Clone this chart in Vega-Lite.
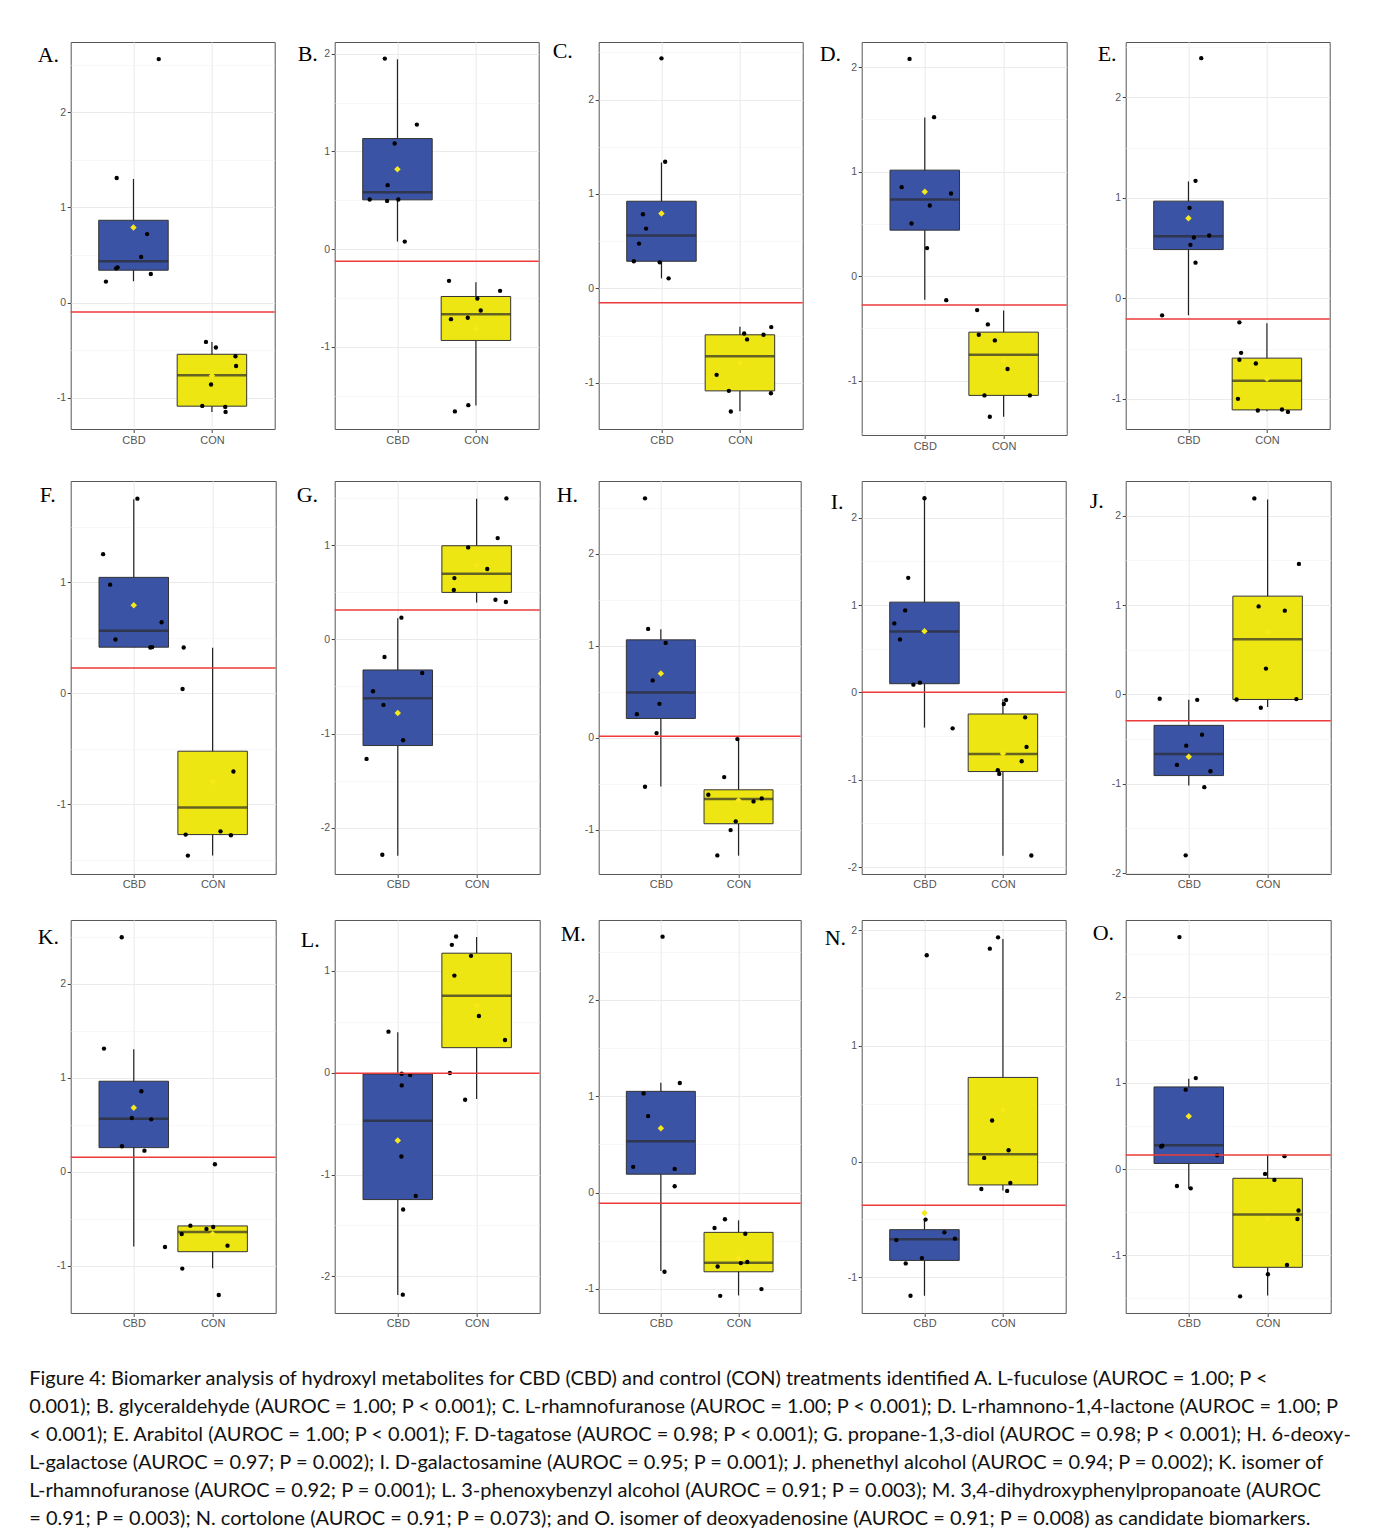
{
"$schema": "https://vega.github.io/schema/vega-lite/v6.json",
"background": "white",
"padding": {"left": 28.7, "top": 39, "right": 5, "bottom": 5},
"columns": 5,
"spacing": {"row": 46, "column": 59},
"bounds": "flush",
"title": {"text": [
"Figure 4: Biomarker analysis of hydroxyl metabolites for CBD (CBD) and control (CON) treatments identified A. L-fuculose (AUROC = 1.00; P <",
"0.001); B. glyceraldehyde (AUROC = 1.00; P < 0.001); C. L-rhamnofuranose (AUROC = 1.00; P < 0.001); D. L-rhamnono-1,4-lactone (AUROC = 1.00; P",
"< 0.001); E. Arabitol (AUROC = 1.00; P < 0.001); F. D-tagatose (AUROC = 0.98; P < 0.001); G. propane-1,3-diol (AUROC = 0.98; P < 0.001); H. 6-deoxy-",
"L-galactose (AUROC = 0.97; P = 0.002); I. D-galactosamine (AUROC = 0.95; P = 0.001); J. phenethyl alcohol (AUROC = 0.94; P = 0.002); K. isomer of",
"L-rhamnofuranose (AUROC = 0.92; P = 0.001); L. 3-phenoxybenzyl alcohol (AUROC = 0.91; P = 0.003); M. 3,4-dihydroxyphenylpropanoate (AUROC",
"= 0.91; P = 0.003); N. cortolone (AUROC = 0.91; P = 0.073); and O. isomer of deoxyadenosine (AUROC = 0.91; P = 0.008) as candidate biomarkers."],
"orient": "bottom", "anchor": "start", "frame": "bounds", "font": "Lato", "fontSize": 20, "fontWeight": "normal", "lineHeight": 28, "baseline": "top", "offset": 40, "dx": -8, "color": "#111111"},
"datasets": {
"box": [
{"p":"A","grp":"CBD","g":1,"lo":0.224,"q1":0.34,"md":0.434,"q3":0.865,"hi":1.30,"mean":0.79},
{"p":"A","grp":"CON","g":2,"lo":-1.15,"q1":-1.09,"md":-0.764,"q3":-0.544,"hi":-0.414,"mean":-0.77},
{"p":"B","grp":"CBD","g":1,"lo":0.078,"q1":0.505,"md":0.583,"q3":1.132,"hi":1.943,"mean":0.818},
{"p":"B","grp":"CON","g":2,"lo":-1.599,"q1":-0.934,"md":-0.665,"q3":-0.484,"hi":-0.338,"mean":-0.82},
{"p":"C","grp":"CBD","g":1,"lo":0.106,"q1":0.287,"md":0.559,"q3":0.923,"hi":1.334,"mean":0.792},
{"p":"C","grp":"CON","g":2,"lo":-1.302,"q1":-1.086,"md":-0.718,"q3":-0.492,"hi":-0.407,"mean":-0.79},
{"p":"D","grp":"CBD","g":1,"lo":-0.226,"q1":0.44,"md":0.733,"q3":1.014,"hi":1.517,"mean":0.807},
{"p":"D","grp":"CON","g":2,"lo":-1.345,"q1":-1.141,"md":-0.752,"q3":-0.536,"hi":-0.328,"mean":-0.81},
{"p":"E","grp":"CBD","g":1,"lo":-0.169,"q1":0.485,"md":0.618,"q3":0.967,"hi":1.163,"mean":0.797},
{"p":"E","grp":"CON","g":2,"lo":-1.123,"q1":-1.11,"md":-0.821,"q3":-0.595,"hi":-0.249,"mean":-0.80},
{"p":"F","grp":"CBD","g":1,"lo":0.413,"q1":0.413,"md":0.56,"q3":1.042,"hi":1.746,"mean":0.79},
{"p":"F","grp":"CON","g":2,"lo":-1.464,"q1":-1.275,"md":-1.03,"q3":-0.524,"hi":0.407,"mean":-0.80},
{"p":"G","grp":"CBD","g":1,"lo":-2.297,"q1":-1.127,"md":-0.625,"q3":-0.325,"hi":0.223,"mean":-0.781},
{"p":"G","grp":"CON","g":2,"lo":0.392,"q1":0.498,"md":0.696,"q3":0.993,"hi":1.491,"mean":0.785},
{"p":"H","grp":"CBD","g":1,"lo":-0.528,"q1":0.21,"md":0.492,"q3":1.064,"hi":1.18,"mean":0.699},
{"p":"H","grp":"CON","g":2,"lo":-1.281,"q1":-0.934,"md":-0.666,"q3":-0.565,"hi":-0.014,"mean":-0.68},
{"p":"I","grp":"CBD","g":1,"lo":-0.404,"q1":0.099,"md":0.698,"q3":1.033,"hi":2.219,"mean":0.701},
{"p":"I","grp":"CON","g":2,"lo":-1.872,"q1":-0.907,"md":-0.705,"q3":-0.248,"hi":-0.08,"mean":-0.70},
{"p":"J","grp":"CBD","g":1,"lo":-1.02,"q1":-0.908,"md":-0.666,"q3":-0.346,"hi":-0.06,"mean":-0.696},
{"p":"J","grp":"CON","g":2,"lo":-0.141,"q1":-0.056,"md":0.618,"q3":1.101,"hi":2.184,"mean":0.70},
{"p":"K","grp":"CBD","g":1,"lo":-0.794,"q1":0.259,"md":0.567,"q3":0.965,"hi":1.305,"mean":0.684},
{"p":"K","grp":"CON","g":2,"lo":-1.025,"q1":-0.848,"md":-0.638,"q3":-0.574,"hi":-0.574,"mean":-0.66},
{"p":"L","grp":"CBD","g":1,"lo":-2.184,"q1":-1.246,"md":-0.472,"q3":-0.013,"hi":0.397,"mean":-0.666},
{"p":"L","grp":"CON","g":2,"lo":-0.259,"q1":0.246,"md":0.757,"q3":1.174,"hi":1.334,"mean":0.66},
{"p":"M","grp":"CBD","g":1,"lo":-0.815,"q1":0.191,"md":0.534,"q3":1.051,"hi":1.141,"mean":0.669},
{"p":"M","grp":"CON","g":2,"lo":-1.068,"q1":-0.822,"md":-0.728,"q3":-0.413,"hi":-0.288,"mean":-0.68},
{"p":"N","grp":"CBD","g":1,"lo":-1.161,"q1":-0.855,"md":-0.673,"q3":-0.589,"hi":-0.502,"mean":-0.445},
{"p":"N","grp":"CON","g":2,"lo":-0.251,"q1":-0.202,"md":0.064,"q3":0.728,"hi":1.926,"mean":0.448},
{"p":"O","grp":"CBD","g":1,"lo":-0.224,"q1":0.065,"md":0.276,"q3":0.953,"hi":1.047,"mean":0.612},
{"p":"O","grp":"CON","g":2,"lo":-1.467,"q1":-1.14,"md":-0.528,"q3":-0.107,"hi":0.159,"mean":-0.58}
],
"thr": [
{"p":"A","y":-0.099},{"p":"B","y":-0.123},{"p":"C","y":-0.152},{"p":"D","y":-0.277},{"p":"E","y":-0.206},
{"p":"F","y":0.225},{"p":"G","y":0.311},{"p":"H","y":0.018},{"p":"I","y":0.0},{"p":"J","y":-0.294},
{"p":"K","y":0.156},{"p":"L","y":-0.005},{"p":"M","y":-0.111},{"p":"N","y":-0.378},{"p":"O","y":0.164}
],
"pts": [
{"p":"A","x":0.786,"y":1.31},{"p":"A","x":1.322,"y":2.56},{"p":"A","x":1.174,"y":0.72},{"p":"A","x":1.098,"y":0.48},{"p":"A","x":0.797,"y":0.37},{"p":"A","x":0.779,"y":0.36},{"p":"A","x":0.649,"y":0.22},{"p":"A","x":1.221,"y":0.30},
{"p":"A","x":1.924,"y":-0.414},{"p":"A","x":2.051,"y":-0.473},{"p":"A","x":2.30,"y":-0.565},{"p":"A","x":2.308,"y":-0.667},{"p":"A","x":1.989,"y":-0.862},{"p":"A","x":1.877,"y":-1.087},{"p":"A","x":2.170,"y":-1.098},{"p":"A","x":2.174,"y":-1.150},
{"p":"B","x":0.839,"y":1.95},{"p":"B","x":1.247,"y":1.275},{"p":"B","x":0.964,"y":1.081},{"p":"B","x":0.875,"y":0.655},{"p":"B","x":0.646,"y":0.508},{"p":"B","x":0.868,"y":0.494},{"p":"B","x":1.011,"y":0.508},{"p":"B","x":1.093,"y":0.078},
{"p":"B","x":1.657,"y":-0.324},{"p":"B","x":2.308,"y":-0.426},{"p":"B","x":2.018,"y":-0.505},{"p":"B","x":2.061,"y":-0.627},{"p":"B","x":1.682,"y":-0.716},{"p":"B","x":1.896,"y":-0.702},{"p":"B","x":1.903,"y":-1.596},{"p":"B","x":1.732,"y":-1.66},
{"p":"C","x":1.0,"y":2.437},{"p":"C","x":1.047,"y":1.341},{"p":"C","x":0.764,"y":0.785},{"p":"C","x":0.804,"y":0.633},{"p":"C","x":0.714,"y":0.474},{"p":"C","x":0.648,"y":0.287},{"p":"C","x":0.978,"y":0.276},{"p":"C","x":1.091,"y":0.106},
{"p":"C","x":2.399,"y":-0.41},{"p":"C","x":2.054,"y":-0.478},{"p":"C","x":2.301,"y":-0.492},{"p":"C","x":2.091,"y":-0.541},{"p":"C","x":1.703,"y":-0.916},{"p":"C","x":1.859,"y":-1.086},{"p":"C","x":2.395,"y":-1.111},{"p":"C","x":1.884,"y":-1.305},
{"p":"D","x":0.807,"y":2.078},{"p":"D","x":1.118,"y":1.521},{"p":"D","x":0.707,"y":0.851},{"p":"D","x":1.333,"y":0.791},{"p":"D","x":1.064,"y":0.676},{"p":"D","x":0.832,"y":0.504},{"p":"D","x":1.029,"y":0.268},{"p":"D","x":1.272,"y":-0.23},
{"p":"D","x":1.664,"y":-0.325},{"p":"D","x":1.80,"y":-0.462},{"p":"D","x":1.685,"y":-0.561},{"p":"D","x":1.889,"y":-0.615},{"p":"D","x":2.05,"y":-0.889},{"p":"D","x":1.757,"y":-1.141},{"p":"D","x":2.333,"y":-1.141},{"p":"D","x":1.825,"y":-1.345},
{"p":"E","x":1.163,"y":2.389},{"p":"E","x":1.09,"y":1.169},{"p":"E","x":1.014,"y":0.90},{"p":"E","x":1.069,"y":0.605},{"p":"E","x":1.264,"y":0.625},{"p":"E","x":1.025,"y":0.532},{"p":"E","x":1.09,"y":0.355},{"p":"E","x":0.664,"y":-0.169},
{"p":"E","x":1.649,"y":-0.239},{"p":"E","x":1.671,"y":-0.542},{"p":"E","x":1.649,"y":-0.611},{"p":"E","x":1.859,"y":-0.648},{"p":"E","x":1.631,"y":-1.0},{"p":"E","x":1.884,"y":-1.116},{"p":"E","x":2.192,"y":-1.106},{"p":"E","x":2.268,"y":-1.13},
{"p":"F","x":1.046,"y":1.751},{"p":"F","x":0.611,"y":1.251},{"p":"F","x":0.70,"y":0.976},{"p":"F","x":1.353,"y":0.638},{"p":"F","x":0.768,"y":0.482},{"p":"F","x":1.21,"y":0.41},{"p":"F","x":1.232,"y":0.413},
{"p":"F","x":1.633,"y":0.41},{"p":"F","x":1.619,"y":0.036},{"p":"F","x":2.264,"y":-0.707},{"p":"F","x":1.658,"y":-1.275},{"p":"F","x":2.10,"y":-1.246},{"p":"F","x":2.232,"y":-1.281},{"p":"F","x":1.686,"y":-1.464},
{"p":"G","x":1.046,"y":0.23},{"p":"G","x":0.832,"y":-0.187},{"p":"G","x":1.31,"y":-0.357},{"p":"G","x":0.686,"y":-0.551},{"p":"G","x":0.818,"y":-0.696},{"p":"G","x":1.068,"y":-1.071},{"p":"G","x":0.604,"y":-1.269},{"p":"G","x":0.804,"y":-2.286},
{"p":"G","x":2.378,"y":1.495},{"p":"G","x":2.267,"y":1.074},{"p":"G","x":1.893,"y":0.975},{"p":"G","x":2.135,"y":0.746},{"p":"G","x":1.718,"y":0.65},{"p":"G","x":1.711,"y":0.523},{"p":"G","x":2.239,"y":0.42},{"p":"G","x":2.371,"y":0.396},
{"p":"H","x":0.796,"y":2.602},{"p":"H","x":0.836,"y":1.183},{"p":"H","x":1.062,"y":1.031},{"p":"H","x":0.895,"y":0.623},{"p":"H","x":0.982,"y":0.369},{"p":"H","x":0.691,"y":0.257},{"p":"H","x":0.945,"y":0.051},{"p":"H","x":0.796,"y":-0.532},
{"p":"H","x":1.985,"y":-0.014},{"p":"H","x":1.815,"y":-0.427},{"p":"H","x":1.611,"y":-0.619},{"p":"H","x":2.193,"y":-0.691},{"p":"H","x":2.298,"y":-0.659},{"p":"H","x":1.964,"y":-0.908},{"p":"H","x":1.898,"y":-1.003},{"p":"H","x":1.727,"y":-1.278},
{"p":"I","x":1.0,"y":2.223},{"p":"I","x":0.793,"y":1.311},{"p":"I","x":0.754,"y":0.938},{"p":"I","x":0.616,"y":0.789},{"p":"I","x":0.688,"y":0.606},{"p":"I","x":0.942,"y":0.111},{"p":"I","x":0.859,"y":0.088},{"p":"I","x":1.359,"y":-0.412},
{"p":"I","x":2.04,"y":-0.088},{"p":"I","x":2.011,"y":-0.133},{"p":"I","x":2.283,"y":-0.286},{"p":"I","x":2.301,"y":-0.625},{"p":"I","x":2.239,"y":-0.789},{"p":"I","x":1.935,"y":-0.892},{"p":"I","x":1.953,"y":-0.934},{"p":"I","x":2.362,"y":-1.868},
{"p":"J","x":0.631,"y":-0.048},{"p":"J","x":1.107,"y":-0.06},{"p":"J","x":1.168,"y":-0.45},{"p":"J","x":0.968,"y":-0.573},{"p":"J","x":0.85,"y":-0.789},{"p":"J","x":1.275,"y":-0.86},{"p":"J","x":1.197,"y":-1.038},{"p":"J","x":0.961,"y":-1.801},
{"p":"J","x":1.832,"y":2.195},{"p":"J","x":2.397,"y":1.462},{"p":"J","x":1.886,"y":0.986},{"p":"J","x":2.218,"y":0.938},{"p":"J","x":1.979,"y":0.29},{"p":"J","x":1.606,"y":-0.056},{"p":"J","x":2.365,"y":-0.052},{"p":"J","x":1.914,"y":-0.149},
{"p":"K","x":0.847,"y":2.496},{"p":"K","x":0.622,"y":1.312},{"p":"K","x":1.096,"y":0.858},{"p":"K","x":0.975,"y":0.574},{"p":"K","x":1.221,"y":0.56},{"p":"K","x":0.85,"y":0.273},{"p":"K","x":1.135,"y":0.227},{"p":"K","x":1.396,"y":-0.798},
{"p":"K","x":2.029,"y":0.082},{"p":"K","x":1.718,"y":-0.571},{"p":"K","x":2.007,"y":-0.585},{"p":"K","x":1.922,"y":-0.606},{"p":"K","x":1.608,"y":-0.66},{"p":"K","x":2.189,"y":-0.784},{"p":"K","x":1.615,"y":-1.028},{"p":"K","x":2.078,"y":-1.309},
{"p":"L","x":0.882,"y":0.403},{"p":"L","x":1.05,"y":-0.01},{"p":"L","x":1.157,"y":-0.023},{"p":"L","x":1.05,"y":-0.125},{"p":"L","x":1.046,"y":-0.823},{"p":"L","x":1.228,"y":-1.21},{"p":"L","x":1.068,"y":-1.344},{"p":"L","x":1.064,"y":-2.18},
{"p":"L","x":1.74,"y":1.338},{"p":"L","x":1.686,"y":1.256},{"p":"L","x":1.929,"y":1.148},{"p":"L","x":1.718,"y":0.954},{"p":"L","x":2.029,"y":0.557},{"p":"L","x":2.36,"y":0.321},{"p":"L","x":1.661,"y":-0.003},{"p":"L","x":1.854,"y":-0.266},
{"p":"M","x":1.022,"y":2.657},{"p":"M","x":1.244,"y":1.138},{"p":"M","x":0.778,"y":1.03},{"p":"M","x":0.836,"y":0.794},{"p":"M","x":0.644,"y":0.267},{"p":"M","x":1.178,"y":0.246},{"p":"M","x":1.178,"y":0.066},{"p":"M","x":1.047,"y":-0.822},
{"p":"M","x":1.825,"y":-0.277},{"p":"M","x":1.691,"y":-0.368},{"p":"M","x":2.087,"y":-0.427},{"p":"M","x":2.113,"y":-0.721},{"p":"M","x":2.029,"y":-0.732},{"p":"M","x":1.731,"y":-0.767},{"p":"M","x":2.295,"y":-1.002},{"p":"M","x":1.764,"y":-1.072},
{"p":"N","x":1.029,"y":1.785},{"p":"N","x":1.014,"y":-0.502},{"p":"N","x":1.254,"y":-0.612},{"p":"N","x":1.388,"y":-0.667},{"p":"N","x":0.641,"y":-0.679},{"p":"N","x":0.967,"y":-0.835},{"p":"N","x":0.761,"y":-0.881},{"p":"N","x":0.822,"y":-1.161},
{"p":"N","x":1.938,"y":1.94},{"p":"N","x":1.833,"y":1.842},{"p":"N","x":1.862,"y":0.355},{"p":"N","x":2.072,"y":0.098},{"p":"N","x":1.761,"y":0.032},{"p":"N","x":2.094,"y":-0.185},{"p":"N","x":1.725,"y":-0.237},{"p":"N","x":2.054,"y":-0.254},
{"p":"O","x":0.882,"y":2.692},{"p":"O","x":1.089,"y":1.056},{"p":"O","x":0.961,"y":0.921},{"p":"O","x":0.651,"y":0.262},{"p":"O","x":0.665,"y":0.271},{"p":"O","x":1.36,"y":0.159},{"p":"O","x":0.85,"y":-0.196},{"p":"O","x":1.025,"y":-0.224},
{"p":"O","x":2.214,"y":0.15},{"p":"O","x":1.968,"y":-0.056},{"p":"O","x":2.086,"y":-0.126},{"p":"O","x":2.392,"y":-0.481},{"p":"O","x":2.378,"y":-0.579},{"p":"O","x":2.246,"y":-1.112},{"p":"O","x":2.004,"y":-1.22},{"p":"O","x":1.651,"y":-1.477}
]
},
"concat": [
{"width":204,"height":387,"title":{"text":"A.","dx":-33,"dy":28.5},"layer":[
{"data":{"name":"box"},"transform":[{"filter":"datum.p=='A'"}],"mark":{"type":"rule","color":"#222222","strokeWidth":1.2},"encoding":{"x":{"field":"g","type":"quantitative","scale":{"domain":[0.4,2.6]},"axis":{"values":[1,2],"labelExpr":"datum.value == 1 ? 'CBD' : 'CON'","title":null,"labelFontSize":11,"grid":true,"gridColor":"#EBEBEB","gridWidth":1.1}},"y":{"field":"lo","type":"quantitative","scale":{"domain":[-1.33,2.74],"nice":false,"zero":false},"axis":{"values":[-1,-0.5,0,0.5,1,1.5,2,2.5],"title":null,"grid":true,"labelExpr":"datum.value % 1 === 0 ? '' + datum.value : ''","gridColor":{"condition":{"test":"datum.value % 1 !== 0","value":"#F4F4F4"},"value":"#EBEBEB"},"gridWidth":{"condition":{"test":"datum.value % 1 !== 0","value":0.6},"value":1.1},"tickOpacity":{"condition":{"test":"datum.value % 1 !== 0","value":0},"value":1}}},"y2":{"field":"hi"}}},
{"data":{"name":"box"},"transform":[{"filter":"datum.p=='A'"}],"mark":{"type":"bar","width":69.5,"stroke":"#333333","strokeWidth":1},"encoding":{"x":{"field":"g","type":"quantitative","title":null},"y":{"field":"q1","type":"quantitative","title":null},"y2":{"field":"q3"},"fill":{"field":"grp","type":"nominal","scale":{"domain":["CBD","CON"],"range":["#3A53A4","#EDE613"]},"legend":null}}},
{"data":{"name":"box"},"transform":[{"filter":"datum.p=='A'"}],"mark":{"type":"tick","orient":"horizontal","size":69.5,"thickness":2.5,"color":"#2b2b2b"},"encoding":{"x":{"field":"g","type":"quantitative","title":null},"y":{"field":"md","type":"quantitative","title":null}}},
{"data":{"name":"pts"},"transform":[{"filter":"datum.p=='A'"}],"mark":{"type":"circle","size":19,"color":"#000000","opacity":1},"encoding":{"x":{"field":"x","type":"quantitative","title":null},"y":{"field":"y","type":"quantitative","title":null}}},
{"data":{"name":"box"},"transform":[{"filter":"datum.p=='A'"}],"mark":{"type":"point","shape":"diamond","filled":true,"size":42,"color":"#F7E81A","opacity":1},"encoding":{"x":{"field":"g","type":"quantitative","title":null},"y":{"field":"mean","type":"quantitative","title":null}}},
{"data":{"name":"thr"},"transform":[{"filter":"datum.p=='A'"}],"mark":{"type":"rule","color":"#EE3A3A","strokeWidth":1.5},"encoding":{"y":{"field":"y","type":"quantitative","title":null}}}
]},
{"width":204,"height":387,"title":{"text":"B.","dx":-37,"dy":27.9},"layer":[
{"data":{"name":"box"},"transform":[{"filter":"datum.p=='B'"}],"mark":{"type":"rule","color":"#222222","strokeWidth":1.2},"encoding":{"x":{"field":"g","type":"quantitative","scale":{"domain":[0.4,2.6]},"axis":{"values":[1,2],"labelExpr":"datum.value == 1 ? 'CBD' : 'CON'","title":null,"labelFontSize":11,"grid":true,"gridColor":"#EBEBEB","gridWidth":1.1}},"y":{"field":"lo","type":"quantitative","scale":{"domain":[-1.84,2.12],"nice":false,"zero":false},"axis":{"values":[-1.5,-1,-0.5,0,0.5,1,1.5,2],"title":null,"grid":true,"labelExpr":"datum.value % 1 === 0 ? '' + datum.value : ''","gridColor":{"condition":{"test":"datum.value % 1 !== 0","value":"#F4F4F4"},"value":"#EBEBEB"},"gridWidth":{"condition":{"test":"datum.value % 1 !== 0","value":0.6},"value":1.1},"tickOpacity":{"condition":{"test":"datum.value % 1 !== 0","value":0},"value":1}}},"y2":{"field":"hi"}}},
{"data":{"name":"box"},"transform":[{"filter":"datum.p=='B'"}],"mark":{"type":"bar","width":69.5,"stroke":"#333333","strokeWidth":1},"encoding":{"x":{"field":"g","type":"quantitative","title":null},"y":{"field":"q1","type":"quantitative","title":null},"y2":{"field":"q3"},"fill":{"field":"grp","type":"nominal","scale":{"domain":["CBD","CON"],"range":["#3A53A4","#EDE613"]},"legend":null}}},
{"data":{"name":"box"},"transform":[{"filter":"datum.p=='B'"}],"mark":{"type":"tick","orient":"horizontal","size":69.5,"thickness":2.5,"color":"#2b2b2b"},"encoding":{"x":{"field":"g","type":"quantitative","title":null},"y":{"field":"md","type":"quantitative","title":null}}},
{"data":{"name":"pts"},"transform":[{"filter":"datum.p=='B'"}],"mark":{"type":"circle","size":19,"color":"#000000","opacity":1},"encoding":{"x":{"field":"x","type":"quantitative","title":null},"y":{"field":"y","type":"quantitative","title":null}}},
{"data":{"name":"box"},"transform":[{"filter":"datum.p=='B'"}],"mark":{"type":"point","shape":"diamond","filled":true,"size":42,"color":"#F7E81A","opacity":1},"encoding":{"x":{"field":"g","type":"quantitative","title":null},"y":{"field":"mean","type":"quantitative","title":null}}},
{"data":{"name":"thr"},"transform":[{"filter":"datum.p=='B'"}],"mark":{"type":"rule","color":"#EE3A3A","strokeWidth":1.5},"encoding":{"y":{"field":"y","type":"quantitative","title":null}}}
]},
{"width":204,"height":387,"title":{"text":"C.","dx":-46,"dy":24.5},"layer":[
{"data":{"name":"box"},"transform":[{"filter":"datum.p=='C'"}],"mark":{"type":"rule","color":"#222222","strokeWidth":1.2},"encoding":{"x":{"field":"g","type":"quantitative","scale":{"domain":[0.4,2.6]},"axis":{"values":[1,2],"labelExpr":"datum.value == 1 ? 'CBD' : 'CON'","title":null,"labelFontSize":11,"grid":true,"gridColor":"#EBEBEB","gridWidth":1.1}},"y":{"field":"lo","type":"quantitative","scale":{"domain":[-1.49,2.61],"nice":false,"zero":false},"axis":{"values":[-1,-0.5,0,0.5,1,1.5,2,2.5],"title":null,"grid":true,"labelExpr":"datum.value % 1 === 0 ? '' + datum.value : ''","gridColor":{"condition":{"test":"datum.value % 1 !== 0","value":"#F4F4F4"},"value":"#EBEBEB"},"gridWidth":{"condition":{"test":"datum.value % 1 !== 0","value":0.6},"value":1.1},"tickOpacity":{"condition":{"test":"datum.value % 1 !== 0","value":0},"value":1}}},"y2":{"field":"hi"}}},
{"data":{"name":"box"},"transform":[{"filter":"datum.p=='C'"}],"mark":{"type":"bar","width":69.5,"stroke":"#333333","strokeWidth":1},"encoding":{"x":{"field":"g","type":"quantitative","title":null},"y":{"field":"q1","type":"quantitative","title":null},"y2":{"field":"q3"},"fill":{"field":"grp","type":"nominal","scale":{"domain":["CBD","CON"],"range":["#3A53A4","#EDE613"]},"legend":null}}},
{"data":{"name":"box"},"transform":[{"filter":"datum.p=='C'"}],"mark":{"type":"tick","orient":"horizontal","size":69.5,"thickness":2.5,"color":"#2b2b2b"},"encoding":{"x":{"field":"g","type":"quantitative","title":null},"y":{"field":"md","type":"quantitative","title":null}}},
{"data":{"name":"pts"},"transform":[{"filter":"datum.p=='C'"}],"mark":{"type":"circle","size":19,"color":"#000000","opacity":1},"encoding":{"x":{"field":"x","type":"quantitative","title":null},"y":{"field":"y","type":"quantitative","title":null}}},
{"data":{"name":"box"},"transform":[{"filter":"datum.p=='C'"}],"mark":{"type":"point","shape":"diamond","filled":true,"size":42,"color":"#F7E81A","opacity":1},"encoding":{"x":{"field":"g","type":"quantitative","title":null},"y":{"field":"mean","type":"quantitative","title":null}}},
{"data":{"name":"thr"},"transform":[{"filter":"datum.p=='C'"}],"mark":{"type":"rule","color":"#EE3A3A","strokeWidth":1.5},"encoding":{"y":{"field":"y","type":"quantitative","title":null}}}
]},
{"width":205,"height":393,"title":{"text":"D.","dx":-42,"dy":27.9},"layer":[
{"data":{"name":"box"},"transform":[{"filter":"datum.p=='D'"}],"mark":{"type":"rule","color":"#222222","strokeWidth":1.2},"encoding":{"x":{"field":"g","type":"quantitative","scale":{"domain":[0.4,2.6]},"axis":{"values":[1,2],"labelExpr":"datum.value == 1 ? 'CBD' : 'CON'","title":null,"labelFontSize":11,"grid":true,"gridColor":"#EBEBEB","gridWidth":1.1}},"y":{"field":"lo","type":"quantitative","scale":{"domain":[-1.52,2.24],"nice":false,"zero":false},"axis":{"values":[-1.5,-1,-0.5,0,0.5,1,1.5,2],"title":null,"grid":true,"labelExpr":"datum.value % 1 === 0 ? '' + datum.value : ''","gridColor":{"condition":{"test":"datum.value % 1 !== 0","value":"#F4F4F4"},"value":"#EBEBEB"},"gridWidth":{"condition":{"test":"datum.value % 1 !== 0","value":0.6},"value":1.1},"tickOpacity":{"condition":{"test":"datum.value % 1 !== 0","value":0},"value":1}}},"y2":{"field":"hi"}}},
{"data":{"name":"box"},"transform":[{"filter":"datum.p=='D'"}],"mark":{"type":"bar","width":69.5,"stroke":"#333333","strokeWidth":1},"encoding":{"x":{"field":"g","type":"quantitative","title":null},"y":{"field":"q1","type":"quantitative","title":null},"y2":{"field":"q3"},"fill":{"field":"grp","type":"nominal","scale":{"domain":["CBD","CON"],"range":["#3A53A4","#EDE613"]},"legend":null}}},
{"data":{"name":"box"},"transform":[{"filter":"datum.p=='D'"}],"mark":{"type":"tick","orient":"horizontal","size":69.5,"thickness":2.5,"color":"#2b2b2b"},"encoding":{"x":{"field":"g","type":"quantitative","title":null},"y":{"field":"md","type":"quantitative","title":null}}},
{"data":{"name":"pts"},"transform":[{"filter":"datum.p=='D'"}],"mark":{"type":"circle","size":19,"color":"#000000","opacity":1},"encoding":{"x":{"field":"x","type":"quantitative","title":null},"y":{"field":"y","type":"quantitative","title":null}}},
{"data":{"name":"box"},"transform":[{"filter":"datum.p=='D'"}],"mark":{"type":"point","shape":"diamond","filled":true,"size":42,"color":"#F7E81A","opacity":1},"encoding":{"x":{"field":"g","type":"quantitative","title":null},"y":{"field":"mean","type":"quantitative","title":null}}},
{"data":{"name":"thr"},"transform":[{"filter":"datum.p=='D'"}],"mark":{"type":"rule","color":"#EE3A3A","strokeWidth":1.5},"encoding":{"y":{"field":"y","type":"quantitative","title":null}}}
]},
{"width":204,"height":387,"title":{"text":"E.","dx":-28,"dy":27.9},"layer":[
{"data":{"name":"box"},"transform":[{"filter":"datum.p=='E'"}],"mark":{"type":"rule","color":"#222222","strokeWidth":1.2},"encoding":{"x":{"field":"g","type":"quantitative","scale":{"domain":[0.4,2.6]},"axis":{"values":[1,2],"labelExpr":"datum.value == 1 ? 'CBD' : 'CON'","title":null,"labelFontSize":11,"grid":true,"gridColor":"#EBEBEB","gridWidth":1.1}},"y":{"field":"lo","type":"quantitative","scale":{"domain":[-1.30,2.55],"nice":false,"zero":false},"axis":{"values":[-1,-0.5,0,0.5,1,1.5,2,2.5],"title":null,"grid":true,"labelExpr":"datum.value % 1 === 0 ? '' + datum.value : ''","gridColor":{"condition":{"test":"datum.value % 1 !== 0","value":"#F4F4F4"},"value":"#EBEBEB"},"gridWidth":{"condition":{"test":"datum.value % 1 !== 0","value":0.6},"value":1.1},"tickOpacity":{"condition":{"test":"datum.value % 1 !== 0","value":0},"value":1}}},"y2":{"field":"hi"}}},
{"data":{"name":"box"},"transform":[{"filter":"datum.p=='E'"}],"mark":{"type":"bar","width":69.5,"stroke":"#333333","strokeWidth":1},"encoding":{"x":{"field":"g","type":"quantitative","title":null},"y":{"field":"q1","type":"quantitative","title":null},"y2":{"field":"q3"},"fill":{"field":"grp","type":"nominal","scale":{"domain":["CBD","CON"],"range":["#3A53A4","#EDE613"]},"legend":null}}},
{"data":{"name":"box"},"transform":[{"filter":"datum.p=='E'"}],"mark":{"type":"tick","orient":"horizontal","size":69.5,"thickness":2.5,"color":"#2b2b2b"},"encoding":{"x":{"field":"g","type":"quantitative","title":null},"y":{"field":"md","type":"quantitative","title":null}}},
{"data":{"name":"pts"},"transform":[{"filter":"datum.p=='E'"}],"mark":{"type":"circle","size":19,"color":"#000000","opacity":1},"encoding":{"x":{"field":"x","type":"quantitative","title":null},"y":{"field":"y","type":"quantitative","title":null}}},
{"data":{"name":"box"},"transform":[{"filter":"datum.p=='E'"}],"mark":{"type":"point","shape":"diamond","filled":true,"size":42,"color":"#F7E81A","opacity":1},"encoding":{"x":{"field":"g","type":"quantitative","title":null},"y":{"field":"mean","type":"quantitative","title":null}}},
{"data":{"name":"thr"},"transform":[{"filter":"datum.p=='E'"}],"mark":{"type":"rule","color":"#EE3A3A","strokeWidth":1.5},"encoding":{"y":{"field":"y","type":"quantitative","title":null}}}
]},
{"width":205,"height":393,"title":{"text":"F.","dx":-31,"dy":29.5},"layer":[
{"data":{"name":"box"},"transform":[{"filter":"datum.p=='F'"}],"mark":{"type":"rule","color":"#222222","strokeWidth":1.2},"encoding":{"x":{"field":"g","type":"quantitative","scale":{"domain":[0.4,2.6]},"axis":{"values":[1,2],"labelExpr":"datum.value == 1 ? 'CBD' : 'CON'","title":null,"labelFontSize":11,"grid":true,"gridColor":"#EBEBEB","gridWidth":1.1}},"y":{"field":"lo","type":"quantitative","scale":{"domain":[-1.63,1.91],"nice":false,"zero":false},"axis":{"values":[-1.5,-1,-0.5,0,0.5,1,1.5],"title":null,"grid":true,"labelExpr":"datum.value % 1 === 0 ? '' + datum.value : ''","gridColor":{"condition":{"test":"datum.value % 1 !== 0","value":"#F4F4F4"},"value":"#EBEBEB"},"gridWidth":{"condition":{"test":"datum.value % 1 !== 0","value":0.6},"value":1.1},"tickOpacity":{"condition":{"test":"datum.value % 1 !== 0","value":0},"value":1}}},"y2":{"field":"hi"}}},
{"data":{"name":"box"},"transform":[{"filter":"datum.p=='F'"}],"mark":{"type":"bar","width":69.5,"stroke":"#333333","strokeWidth":1},"encoding":{"x":{"field":"g","type":"quantitative","title":null},"y":{"field":"q1","type":"quantitative","title":null},"y2":{"field":"q3"},"fill":{"field":"grp","type":"nominal","scale":{"domain":["CBD","CON"],"range":["#3A53A4","#EDE613"]},"legend":null}}},
{"data":{"name":"box"},"transform":[{"filter":"datum.p=='F'"}],"mark":{"type":"tick","orient":"horizontal","size":69.5,"thickness":2.5,"color":"#2b2b2b"},"encoding":{"x":{"field":"g","type":"quantitative","title":null},"y":{"field":"md","type":"quantitative","title":null}}},
{"data":{"name":"pts"},"transform":[{"filter":"datum.p=='F'"}],"mark":{"type":"circle","size":19,"color":"#000000","opacity":1},"encoding":{"x":{"field":"x","type":"quantitative","title":null},"y":{"field":"y","type":"quantitative","title":null}}},
{"data":{"name":"box"},"transform":[{"filter":"datum.p=='F'"}],"mark":{"type":"point","shape":"diamond","filled":true,"size":42,"color":"#F7E81A","opacity":1},"encoding":{"x":{"field":"g","type":"quantitative","title":null},"y":{"field":"mean","type":"quantitative","title":null}}},
{"data":{"name":"thr"},"transform":[{"filter":"datum.p=='F'"}],"mark":{"type":"rule","color":"#EE3A3A","strokeWidth":1.5},"encoding":{"y":{"field":"y","type":"quantitative","title":null}}}
]},
{"width":205,"height":393,"title":{"text":"G.","dx":-38,"dy":29.5},"layer":[
{"data":{"name":"box"},"transform":[{"filter":"datum.p=='G'"}],"mark":{"type":"rule","color":"#222222","strokeWidth":1.2},"encoding":{"x":{"field":"g","type":"quantitative","scale":{"domain":[0.4,2.6]},"axis":{"values":[1,2],"labelExpr":"datum.value == 1 ? 'CBD' : 'CON'","title":null,"labelFontSize":11,"grid":true,"gridColor":"#EBEBEB","gridWidth":1.1}},"y":{"field":"lo","type":"quantitative","scale":{"domain":[-2.49,1.68],"nice":false,"zero":false},"axis":{"values":[-2,-1.5,-1,-0.5,0,0.5,1,1.5],"title":null,"grid":true,"labelExpr":"datum.value % 1 === 0 ? '' + datum.value : ''","gridColor":{"condition":{"test":"datum.value % 1 !== 0","value":"#F4F4F4"},"value":"#EBEBEB"},"gridWidth":{"condition":{"test":"datum.value % 1 !== 0","value":0.6},"value":1.1},"tickOpacity":{"condition":{"test":"datum.value % 1 !== 0","value":0},"value":1}}},"y2":{"field":"hi"}}},
{"data":{"name":"box"},"transform":[{"filter":"datum.p=='G'"}],"mark":{"type":"bar","width":69.5,"stroke":"#333333","strokeWidth":1},"encoding":{"x":{"field":"g","type":"quantitative","title":null},"y":{"field":"q1","type":"quantitative","title":null},"y2":{"field":"q3"},"fill":{"field":"grp","type":"nominal","scale":{"domain":["CBD","CON"],"range":["#3A53A4","#EDE613"]},"legend":null}}},
{"data":{"name":"box"},"transform":[{"filter":"datum.p=='G'"}],"mark":{"type":"tick","orient":"horizontal","size":69.5,"thickness":2.5,"color":"#2b2b2b"},"encoding":{"x":{"field":"g","type":"quantitative","title":null},"y":{"field":"md","type":"quantitative","title":null}}},
{"data":{"name":"pts"},"transform":[{"filter":"datum.p=='G'"}],"mark":{"type":"circle","size":19,"color":"#000000","opacity":1},"encoding":{"x":{"field":"x","type":"quantitative","title":null},"y":{"field":"y","type":"quantitative","title":null}}},
{"data":{"name":"box"},"transform":[{"filter":"datum.p=='G'"}],"mark":{"type":"point","shape":"diamond","filled":true,"size":42,"color":"#F7E81A","opacity":1},"encoding":{"x":{"field":"g","type":"quantitative","title":null},"y":{"field":"mean","type":"quantitative","title":null}}},
{"data":{"name":"thr"},"transform":[{"filter":"datum.p=='G'"}],"mark":{"type":"rule","color":"#EE3A3A","strokeWidth":1.5},"encoding":{"y":{"field":"y","type":"quantitative","title":null}}}
]},
{"width":202,"height":393,"title":{"text":"H.","dx":-42,"dy":29.5},"layer":[
{"data":{"name":"box"},"transform":[{"filter":"datum.p=='H'"}],"mark":{"type":"rule","color":"#222222","strokeWidth":1.2},"encoding":{"x":{"field":"g","type":"quantitative","scale":{"domain":[0.4,2.6]},"axis":{"values":[1,2],"labelExpr":"datum.value == 1 ? 'CBD' : 'CON'","title":null,"labelFontSize":11,"grid":true,"gridColor":"#EBEBEB","gridWidth":1.1}},"y":{"field":"lo","type":"quantitative","scale":{"domain":[-1.48,2.79],"nice":false,"zero":false},"axis":{"values":[-1,-0.5,0,0.5,1,1.5,2,2.5],"title":null,"grid":true,"labelExpr":"datum.value % 1 === 0 ? '' + datum.value : ''","gridColor":{"condition":{"test":"datum.value % 1 !== 0","value":"#F4F4F4"},"value":"#EBEBEB"},"gridWidth":{"condition":{"test":"datum.value % 1 !== 0","value":0.6},"value":1.1},"tickOpacity":{"condition":{"test":"datum.value % 1 !== 0","value":0},"value":1}}},"y2":{"field":"hi"}}},
{"data":{"name":"box"},"transform":[{"filter":"datum.p=='H'"}],"mark":{"type":"bar","width":69,"stroke":"#333333","strokeWidth":1},"encoding":{"x":{"field":"g","type":"quantitative","title":null},"y":{"field":"q1","type":"quantitative","title":null},"y2":{"field":"q3"},"fill":{"field":"grp","type":"nominal","scale":{"domain":["CBD","CON"],"range":["#3A53A4","#EDE613"]},"legend":null}}},
{"data":{"name":"box"},"transform":[{"filter":"datum.p=='H'"}],"mark":{"type":"tick","orient":"horizontal","size":69,"thickness":2.5,"color":"#2b2b2b"},"encoding":{"x":{"field":"g","type":"quantitative","title":null},"y":{"field":"md","type":"quantitative","title":null}}},
{"data":{"name":"pts"},"transform":[{"filter":"datum.p=='H'"}],"mark":{"type":"circle","size":19,"color":"#000000","opacity":1},"encoding":{"x":{"field":"x","type":"quantitative","title":null},"y":{"field":"y","type":"quantitative","title":null}}},
{"data":{"name":"box"},"transform":[{"filter":"datum.p=='H'"}],"mark":{"type":"point","shape":"diamond","filled":true,"size":42,"color":"#F7E81A","opacity":1},"encoding":{"x":{"field":"g","type":"quantitative","title":null},"y":{"field":"mean","type":"quantitative","title":null}}},
{"data":{"name":"thr"},"transform":[{"filter":"datum.p=='H'"}],"mark":{"type":"rule","color":"#EE3A3A","strokeWidth":1.5},"encoding":{"y":{"field":"y","type":"quantitative","title":null}}}
]},
{"width":204,"height":393,"title":{"text":"I.","dx":-31,"dy":36.5},"layer":[
{"data":{"name":"box"},"transform":[{"filter":"datum.p=='I'"}],"mark":{"type":"rule","color":"#222222","strokeWidth":1.2},"encoding":{"x":{"field":"g","type":"quantitative","scale":{"domain":[0.4,2.6]},"axis":{"values":[1,2],"labelExpr":"datum.value == 1 ? 'CBD' : 'CON'","title":null,"labelFontSize":11,"grid":true,"gridColor":"#EBEBEB","gridWidth":1.1}},"y":{"field":"lo","type":"quantitative","scale":{"domain":[-2.08,2.42],"nice":false,"zero":false},"axis":{"values":[-2,-1.5,-1,-0.5,0,0.5,1,1.5,2],"title":null,"grid":true,"labelExpr":"datum.value % 1 === 0 ? '' + datum.value : ''","gridColor":{"condition":{"test":"datum.value % 1 !== 0","value":"#F4F4F4"},"value":"#EBEBEB"},"gridWidth":{"condition":{"test":"datum.value % 1 !== 0","value":0.6},"value":1.1},"tickOpacity":{"condition":{"test":"datum.value % 1 !== 0","value":0},"value":1}}},"y2":{"field":"hi"}}},
{"data":{"name":"box"},"transform":[{"filter":"datum.p=='I'"}],"mark":{"type":"bar","width":69.5,"stroke":"#333333","strokeWidth":1},"encoding":{"x":{"field":"g","type":"quantitative","title":null},"y":{"field":"q1","type":"quantitative","title":null},"y2":{"field":"q3"},"fill":{"field":"grp","type":"nominal","scale":{"domain":["CBD","CON"],"range":["#3A53A4","#EDE613"]},"legend":null}}},
{"data":{"name":"box"},"transform":[{"filter":"datum.p=='I'"}],"mark":{"type":"tick","orient":"horizontal","size":69.5,"thickness":2.5,"color":"#2b2b2b"},"encoding":{"x":{"field":"g","type":"quantitative","title":null},"y":{"field":"md","type":"quantitative","title":null}}},
{"data":{"name":"pts"},"transform":[{"filter":"datum.p=='I'"}],"mark":{"type":"circle","size":19,"color":"#000000","opacity":1},"encoding":{"x":{"field":"x","type":"quantitative","title":null},"y":{"field":"y","type":"quantitative","title":null}}},
{"data":{"name":"box"},"transform":[{"filter":"datum.p=='I'"}],"mark":{"type":"point","shape":"diamond","filled":true,"size":42,"color":"#F7E81A","opacity":1},"encoding":{"x":{"field":"g","type":"quantitative","title":null},"y":{"field":"mean","type":"quantitative","title":null}}},
{"data":{"name":"thr"},"transform":[{"filter":"datum.p=='I'"}],"mark":{"type":"rule","color":"#EE3A3A","strokeWidth":1.5},"encoding":{"y":{"field":"y","type":"quantitative","title":null}}}
]},
{"width":205,"height":393,"title":{"text":"J.","dx":-36,"dy":35.5},"layer":[
{"data":{"name":"box"},"transform":[{"filter":"datum.p=='J'"}],"mark":{"type":"rule","color":"#222222","strokeWidth":1.2},"encoding":{"x":{"field":"g","type":"quantitative","scale":{"domain":[0.4,2.6]},"axis":{"values":[1,2],"labelExpr":"datum.value == 1 ? 'CBD' : 'CON'","title":null,"labelFontSize":11,"grid":true,"gridColor":"#EBEBEB","gridWidth":1.1}},"y":{"field":"lo","type":"quantitative","scale":{"domain":[-2.01,2.39],"nice":false,"zero":false},"axis":{"values":[-2,-1.5,-1,-0.5,0,0.5,1,1.5,2],"title":null,"grid":true,"labelExpr":"datum.value % 1 === 0 ? '' + datum.value : ''","gridColor":{"condition":{"test":"datum.value % 1 !== 0","value":"#F4F4F4"},"value":"#EBEBEB"},"gridWidth":{"condition":{"test":"datum.value % 1 !== 0","value":0.6},"value":1.1},"tickOpacity":{"condition":{"test":"datum.value % 1 !== 0","value":0},"value":1}}},"y2":{"field":"hi"}}},
{"data":{"name":"box"},"transform":[{"filter":"datum.p=='J'"}],"mark":{"type":"bar","width":69.5,"stroke":"#333333","strokeWidth":1},"encoding":{"x":{"field":"g","type":"quantitative","title":null},"y":{"field":"q1","type":"quantitative","title":null},"y2":{"field":"q3"},"fill":{"field":"grp","type":"nominal","scale":{"domain":["CBD","CON"],"range":["#3A53A4","#EDE613"]},"legend":null}}},
{"data":{"name":"box"},"transform":[{"filter":"datum.p=='J'"}],"mark":{"type":"tick","orient":"horizontal","size":69.5,"thickness":2.5,"color":"#2b2b2b"},"encoding":{"x":{"field":"g","type":"quantitative","title":null},"y":{"field":"md","type":"quantitative","title":null}}},
{"data":{"name":"pts"},"transform":[{"filter":"datum.p=='J'"}],"mark":{"type":"circle","size":19,"color":"#000000","opacity":1},"encoding":{"x":{"field":"x","type":"quantitative","title":null},"y":{"field":"y","type":"quantitative","title":null}}},
{"data":{"name":"box"},"transform":[{"filter":"datum.p=='J'"}],"mark":{"type":"point","shape":"diamond","filled":true,"size":42,"color":"#F7E81A","opacity":1},"encoding":{"x":{"field":"g","type":"quantitative","title":null},"y":{"field":"mean","type":"quantitative","title":null}}},
{"data":{"name":"thr"},"transform":[{"filter":"datum.p=='J'"}],"mark":{"type":"rule","color":"#EE3A3A","strokeWidth":1.5},"encoding":{"y":{"field":"y","type":"quantitative","title":null}}}
]},
{"width":205,"height":393,"title":{"text":"K.","dx":-33,"dy":33.5},"layer":[
{"data":{"name":"box"},"transform":[{"filter":"datum.p=='K'"}],"mark":{"type":"rule","color":"#222222","strokeWidth":1.2},"encoding":{"x":{"field":"g","type":"quantitative","scale":{"domain":[0.4,2.6]},"axis":{"values":[1,2],"labelExpr":"datum.value == 1 ? 'CBD' : 'CON'","title":null,"labelFontSize":11,"grid":true,"gridColor":"#EBEBEB","gridWidth":1.1}},"y":{"field":"lo","type":"quantitative","scale":{"domain":[-1.50,2.68],"nice":false,"zero":false},"axis":{"values":[-1,-0.5,0,0.5,1,1.5,2,2.5],"title":null,"grid":true,"labelExpr":"datum.value % 1 === 0 ? '' + datum.value : ''","gridColor":{"condition":{"test":"datum.value % 1 !== 0","value":"#F4F4F4"},"value":"#EBEBEB"},"gridWidth":{"condition":{"test":"datum.value % 1 !== 0","value":0.6},"value":1.1},"tickOpacity":{"condition":{"test":"datum.value % 1 !== 0","value":0},"value":1}}},"y2":{"field":"hi"}}},
{"data":{"name":"box"},"transform":[{"filter":"datum.p=='K'"}],"mark":{"type":"bar","width":69.5,"stroke":"#333333","strokeWidth":1},"encoding":{"x":{"field":"g","type":"quantitative","title":null},"y":{"field":"q1","type":"quantitative","title":null},"y2":{"field":"q3"},"fill":{"field":"grp","type":"nominal","scale":{"domain":["CBD","CON"],"range":["#3A53A4","#EDE613"]},"legend":null}}},
{"data":{"name":"box"},"transform":[{"filter":"datum.p=='K'"}],"mark":{"type":"tick","orient":"horizontal","size":69.5,"thickness":2.5,"color":"#2b2b2b"},"encoding":{"x":{"field":"g","type":"quantitative","title":null},"y":{"field":"md","type":"quantitative","title":null}}},
{"data":{"name":"pts"},"transform":[{"filter":"datum.p=='K'"}],"mark":{"type":"circle","size":19,"color":"#000000","opacity":1},"encoding":{"x":{"field":"x","type":"quantitative","title":null},"y":{"field":"y","type":"quantitative","title":null}}},
{"data":{"name":"box"},"transform":[{"filter":"datum.p=='K'"}],"mark":{"type":"point","shape":"diamond","filled":true,"size":42,"color":"#F7E81A","opacity":1},"encoding":{"x":{"field":"g","type":"quantitative","title":null},"y":{"field":"mean","type":"quantitative","title":null}}},
{"data":{"name":"thr"},"transform":[{"filter":"datum.p=='K'"}],"mark":{"type":"rule","color":"#EE3A3A","strokeWidth":1.5},"encoding":{"y":{"field":"y","type":"quantitative","title":null}}}
]},
{"width":205,"height":393,"title":{"text":"L.","dx":-34,"dy":36.5},"layer":[
{"data":{"name":"box"},"transform":[{"filter":"datum.p=='L'"}],"mark":{"type":"rule","color":"#222222","strokeWidth":1.2},"encoding":{"x":{"field":"g","type":"quantitative","scale":{"domain":[0.4,2.6]},"axis":{"values":[1,2],"labelExpr":"datum.value == 1 ? 'CBD' : 'CON'","title":null,"labelFontSize":11,"grid":true,"gridColor":"#EBEBEB","gridWidth":1.1}},"y":{"field":"lo","type":"quantitative","scale":{"domain":[-2.36,1.50],"nice":false,"zero":false},"axis":{"values":[-2,-1.5,-1,-0.5,0,0.5,1],"title":null,"grid":true,"labelExpr":"datum.value % 1 === 0 ? '' + datum.value : ''","gridColor":{"condition":{"test":"datum.value % 1 !== 0","value":"#F4F4F4"},"value":"#EBEBEB"},"gridWidth":{"condition":{"test":"datum.value % 1 !== 0","value":0.6},"value":1.1},"tickOpacity":{"condition":{"test":"datum.value % 1 !== 0","value":0},"value":1}}},"y2":{"field":"hi"}}},
{"data":{"name":"box"},"transform":[{"filter":"datum.p=='L'"}],"mark":{"type":"bar","width":69.5,"stroke":"#333333","strokeWidth":1},"encoding":{"x":{"field":"g","type":"quantitative","title":null},"y":{"field":"q1","type":"quantitative","title":null},"y2":{"field":"q3"},"fill":{"field":"grp","type":"nominal","scale":{"domain":["CBD","CON"],"range":["#3A53A4","#EDE613"]},"legend":null}}},
{"data":{"name":"box"},"transform":[{"filter":"datum.p=='L'"}],"mark":{"type":"tick","orient":"horizontal","size":69.5,"thickness":2.5,"color":"#2b2b2b"},"encoding":{"x":{"field":"g","type":"quantitative","title":null},"y":{"field":"md","type":"quantitative","title":null}}},
{"data":{"name":"pts"},"transform":[{"filter":"datum.p=='L'"}],"mark":{"type":"circle","size":19,"color":"#000000","opacity":1},"encoding":{"x":{"field":"x","type":"quantitative","title":null},"y":{"field":"y","type":"quantitative","title":null}}},
{"data":{"name":"box"},"transform":[{"filter":"datum.p=='L'"}],"mark":{"type":"point","shape":"diamond","filled":true,"size":42,"color":"#F7E81A","opacity":1},"encoding":{"x":{"field":"g","type":"quantitative","title":null},"y":{"field":"mean","type":"quantitative","title":null}}},
{"data":{"name":"thr"},"transform":[{"filter":"datum.p=='L'"}],"mark":{"type":"rule","color":"#EE3A3A","strokeWidth":1.5},"encoding":{"y":{"field":"y","type":"quantitative","title":null}}}
]},
{"width":202,"height":393,"title":{"text":"M.","dx":-38,"dy":30.5},"layer":[
{"data":{"name":"box"},"transform":[{"filter":"datum.p=='M'"}],"mark":{"type":"rule","color":"#222222","strokeWidth":1.2},"encoding":{"x":{"field":"g","type":"quantitative","scale":{"domain":[0.4,2.6]},"axis":{"values":[1,2],"labelExpr":"datum.value == 1 ? 'CBD' : 'CON'","title":null,"labelFontSize":11,"grid":true,"gridColor":"#EBEBEB","gridWidth":1.1}},"y":{"field":"lo","type":"quantitative","scale":{"domain":[-1.25,2.83],"nice":false,"zero":false},"axis":{"values":[-1,-0.5,0,0.5,1,1.5,2,2.5],"title":null,"grid":true,"labelExpr":"datum.value % 1 === 0 ? '' + datum.value : ''","gridColor":{"condition":{"test":"datum.value % 1 !== 0","value":"#F4F4F4"},"value":"#EBEBEB"},"gridWidth":{"condition":{"test":"datum.value % 1 !== 0","value":0.6},"value":1.1},"tickOpacity":{"condition":{"test":"datum.value % 1 !== 0","value":0},"value":1}}},"y2":{"field":"hi"}}},
{"data":{"name":"box"},"transform":[{"filter":"datum.p=='M'"}],"mark":{"type":"bar","width":69,"stroke":"#333333","strokeWidth":1},"encoding":{"x":{"field":"g","type":"quantitative","title":null},"y":{"field":"q1","type":"quantitative","title":null},"y2":{"field":"q3"},"fill":{"field":"grp","type":"nominal","scale":{"domain":["CBD","CON"],"range":["#3A53A4","#EDE613"]},"legend":null}}},
{"data":{"name":"box"},"transform":[{"filter":"datum.p=='M'"}],"mark":{"type":"tick","orient":"horizontal","size":69,"thickness":2.5,"color":"#2b2b2b"},"encoding":{"x":{"field":"g","type":"quantitative","title":null},"y":{"field":"md","type":"quantitative","title":null}}},
{"data":{"name":"pts"},"transform":[{"filter":"datum.p=='M'"}],"mark":{"type":"circle","size":19,"color":"#000000","opacity":1},"encoding":{"x":{"field":"x","type":"quantitative","title":null},"y":{"field":"y","type":"quantitative","title":null}}},
{"data":{"name":"box"},"transform":[{"filter":"datum.p=='M'"}],"mark":{"type":"point","shape":"diamond","filled":true,"size":42,"color":"#F7E81A","opacity":1},"encoding":{"x":{"field":"g","type":"quantitative","title":null},"y":{"field":"mean","type":"quantitative","title":null}}},
{"data":{"name":"thr"},"transform":[{"filter":"datum.p=='M'"}],"mark":{"type":"rule","color":"#EE3A3A","strokeWidth":1.5},"encoding":{"y":{"field":"y","type":"quantitative","title":null}}}
]},
{"width":204,"height":393,"title":{"text":"N.","dx":-37,"dy":34.2},"layer":[
{"data":{"name":"box"},"transform":[{"filter":"datum.p=='N'"}],"mark":{"type":"rule","color":"#222222","strokeWidth":1.2},"encoding":{"x":{"field":"g","type":"quantitative","scale":{"domain":[0.4,2.6]},"axis":{"values":[1,2],"labelExpr":"datum.value == 1 ? 'CBD' : 'CON'","title":null,"labelFontSize":11,"grid":true,"gridColor":"#EBEBEB","gridWidth":1.1}},"y":{"field":"lo","type":"quantitative","scale":{"domain":[-1.31,2.09],"nice":false,"zero":false},"axis":{"values":[-1,-0.5,0,0.5,1,1.5,2],"title":null,"grid":true,"labelExpr":"datum.value % 1 === 0 ? '' + datum.value : ''","gridColor":{"condition":{"test":"datum.value % 1 !== 0","value":"#F4F4F4"},"value":"#EBEBEB"},"gridWidth":{"condition":{"test":"datum.value % 1 !== 0","value":0.6},"value":1.1},"tickOpacity":{"condition":{"test":"datum.value % 1 !== 0","value":0},"value":1}}},"y2":{"field":"hi"}}},
{"data":{"name":"box"},"transform":[{"filter":"datum.p=='N'"}],"mark":{"type":"bar","width":69.5,"stroke":"#333333","strokeWidth":1},"encoding":{"x":{"field":"g","type":"quantitative","title":null},"y":{"field":"q1","type":"quantitative","title":null},"y2":{"field":"q3"},"fill":{"field":"grp","type":"nominal","scale":{"domain":["CBD","CON"],"range":["#3A53A4","#EDE613"]},"legend":null}}},
{"data":{"name":"box"},"transform":[{"filter":"datum.p=='N'"}],"mark":{"type":"tick","orient":"horizontal","size":69.5,"thickness":2.5,"color":"#2b2b2b"},"encoding":{"x":{"field":"g","type":"quantitative","title":null},"y":{"field":"md","type":"quantitative","title":null}}},
{"data":{"name":"pts"},"transform":[{"filter":"datum.p=='N'"}],"mark":{"type":"circle","size":19,"color":"#000000","opacity":1},"encoding":{"x":{"field":"x","type":"quantitative","title":null},"y":{"field":"y","type":"quantitative","title":null}}},
{"data":{"name":"box"},"transform":[{"filter":"datum.p=='N'"}],"mark":{"type":"point","shape":"diamond","filled":true,"size":42,"color":"#F7E81A","opacity":1},"encoding":{"x":{"field":"g","type":"quantitative","title":null},"y":{"field":"mean","type":"quantitative","title":null}}},
{"data":{"name":"thr"},"transform":[{"filter":"datum.p=='N'"}],"mark":{"type":"rule","color":"#EE3A3A","strokeWidth":1.5},"encoding":{"y":{"field":"y","type":"quantitative","title":null}}}
]},
{"width":205,"height":393,"title":{"text":"O.","dx":-33,"dy":29.5},"layer":[
{"data":{"name":"box"},"transform":[{"filter":"datum.p=='O'"}],"mark":{"type":"rule","color":"#222222","strokeWidth":1.2},"encoding":{"x":{"field":"g","type":"quantitative","scale":{"domain":[0.4,2.6]},"axis":{"values":[1,2],"labelExpr":"datum.value == 1 ? 'CBD' : 'CON'","title":null,"labelFontSize":11,"grid":true,"gridColor":"#EBEBEB","gridWidth":1.1}},"y":{"field":"lo","type":"quantitative","scale":{"domain":[-1.67,2.89],"nice":false,"zero":false},"axis":{"values":[-1.5,-1,-0.5,0,0.5,1,1.5,2,2.5],"title":null,"grid":true,"labelExpr":"datum.value % 1 === 0 ? '' + datum.value : ''","gridColor":{"condition":{"test":"datum.value % 1 !== 0","value":"#F4F4F4"},"value":"#EBEBEB"},"gridWidth":{"condition":{"test":"datum.value % 1 !== 0","value":0.6},"value":1.1},"tickOpacity":{"condition":{"test":"datum.value % 1 !== 0","value":0},"value":1}}},"y2":{"field":"hi"}}},
{"data":{"name":"box"},"transform":[{"filter":"datum.p=='O'"}],"mark":{"type":"bar","width":69.5,"stroke":"#333333","strokeWidth":1},"encoding":{"x":{"field":"g","type":"quantitative","title":null},"y":{"field":"q1","type":"quantitative","title":null},"y2":{"field":"q3"},"fill":{"field":"grp","type":"nominal","scale":{"domain":["CBD","CON"],"range":["#3A53A4","#EDE613"]},"legend":null}}},
{"data":{"name":"box"},"transform":[{"filter":"datum.p=='O'"}],"mark":{"type":"tick","orient":"horizontal","size":69.5,"thickness":2.5,"color":"#2b2b2b"},"encoding":{"x":{"field":"g","type":"quantitative","title":null},"y":{"field":"md","type":"quantitative","title":null}}},
{"data":{"name":"pts"},"transform":[{"filter":"datum.p=='O'"}],"mark":{"type":"circle","size":19,"color":"#000000","opacity":1},"encoding":{"x":{"field":"x","type":"quantitative","title":null},"y":{"field":"y","type":"quantitative","title":null}}},
{"data":{"name":"box"},"transform":[{"filter":"datum.p=='O'"}],"mark":{"type":"point","shape":"diamond","filled":true,"size":42,"color":"#F7E81A","opacity":1},"encoding":{"x":{"field":"g","type":"quantitative","title":null},"y":{"field":"mean","type":"quantitative","title":null}}},
{"data":{"name":"thr"},"transform":[{"filter":"datum.p=='O'"}],"mark":{"type":"rule","color":"#EE3A3A","strokeWidth":1.5},"encoding":{"y":{"field":"y","type":"quantitative","title":null}}}
]}
],
"config": {
"view": {"stroke": "#555555", "strokeWidth": 1},
"axis": {"domain": false, "labelFont": "Liberation Sans", "labelFontSize": 10.5, "labelColor": "#555555", "tickColor": "#444444", "tickSize": 3.5, "labelPadding": 1.5},
"title": {"font": "Liberation Serif", "fontSize": 22, "fontWeight": "normal", "anchor": "start", "frame": "group", "baseline": "top", "offset": 0, "color": "#000000"}
}
}
